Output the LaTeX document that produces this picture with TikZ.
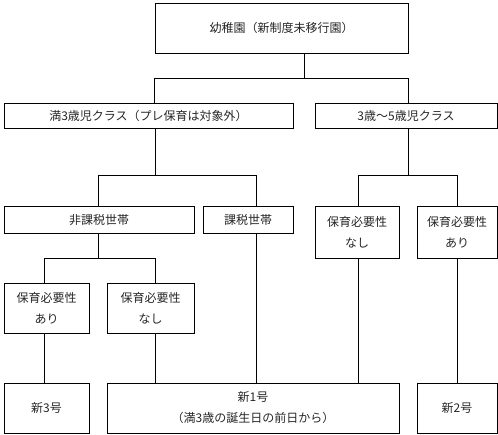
\documentclass[tikz,border=0pt]{standalone}
\usepackage{fontspec}
\setmainfont{Noto Sans CJK JP}
\begin{document}
\begin{tikzpicture}[x=1pt, y=-1pt, line width=0.8pt,
  box/.style={draw, inner sep=0pt, align=center, text=black!85,
    font=\fontsize{12}{21}\selectfont}]
\useasboundingbox (0,0) rectangle (498,434);
% top
\node[box, minimum width=253, minimum height=50] (youchien) at (281.5,28) {幼稚園（新制度未移行園）};
% classes
\node[box, minimum width=289, minimum height=25] (pre) at (148.5,115.5) {満3歳児クラス（プレ保育は対象外）};
\node[box, minimum width=182, minimum height=25] (kids) at (406,115.5) {3歳〜5歳児クラス};
% households
\node[box, minimum width=190, minimum height=27] (hikazei) at (99,219.5) {非課税世帯};
\node[box, minimum width=90, minimum height=27] (kazei) at (248,219.5) {課税世帯};
% need for care
\node[box, minimum width=84, minimum height=52] (nashiR) at (357,232) {保育必要性\\なし};
\node[box, minimum width=80, minimum height=52] (ariR) at (457,232) {保育必要性\\あり};
\node[box, minimum width=85, minimum height=50] (ariL) at (46.5,308) {保育必要性\\あり};
\node[box, minimum width=87, minimum height=50] (nashiL) at (150.5,308) {保育必要性\\なし};
% certificates
\node[box, minimum width=85, minimum height=50] (shin3) at (46.5,408) {新3号};
\node[box, minimum width=292, minimum height=50] (shin1) at (253,408) {新1号\\（満3歳の誕生日の前日から）};
\node[box, minimum width=80, minimum height=50] (shin2) at (457,408) {新2号};
% branch points
\coordinate (t1) at (304.5,78);
\coordinate (t2) at (155,175);
\coordinate (t3) at (408,175);
\coordinate (t4) at (98,258);
\coordinate (b1) at (98,175);
\coordinate (b2) at (256,175);
\coordinate (b3) at (358,175);
\coordinate (b4) at (457,175);
\coordinate (b5) at (44,258);
\coordinate (b6) at (155,258);
% connectors
\draw (youchien.south -| t1) -- (t1);
\draw (pre.north -| youchien.west) -- (youchien.west |- t1) -- (youchien.east |- t1) -- (kids.north -| youchien.east);
\draw (pre.south -| t2) -- (t2);
\draw (hikazei.north -| b1) -- (b1) -- (b2) -- (kazei.north -| b2);
\draw (kids.south -| t3) -- (t3);
\draw (nashiR.north -| b3) -- (b3) -- (b4) -- (ariR.north -| b4);
\draw (hikazei.south -| t4) -- (t4);
\draw (ariL.north -| b5) -- (b5) -- (b6) -- (nashiL.north -| b6);
\draw (ariL.south -| b5) -- (shin3.north -| b5);
\draw (nashiL.south -| b6) -- (shin1.north -| b6);
\draw (kazei.south -| b2) -- (shin1.north -| b2);
\draw (nashiR.south -| b3) -- (shin1.north -| b3);
\draw (ariR.south -| b4) -- (shin2.north -| b4);
\end{tikzpicture}
\end{document}
